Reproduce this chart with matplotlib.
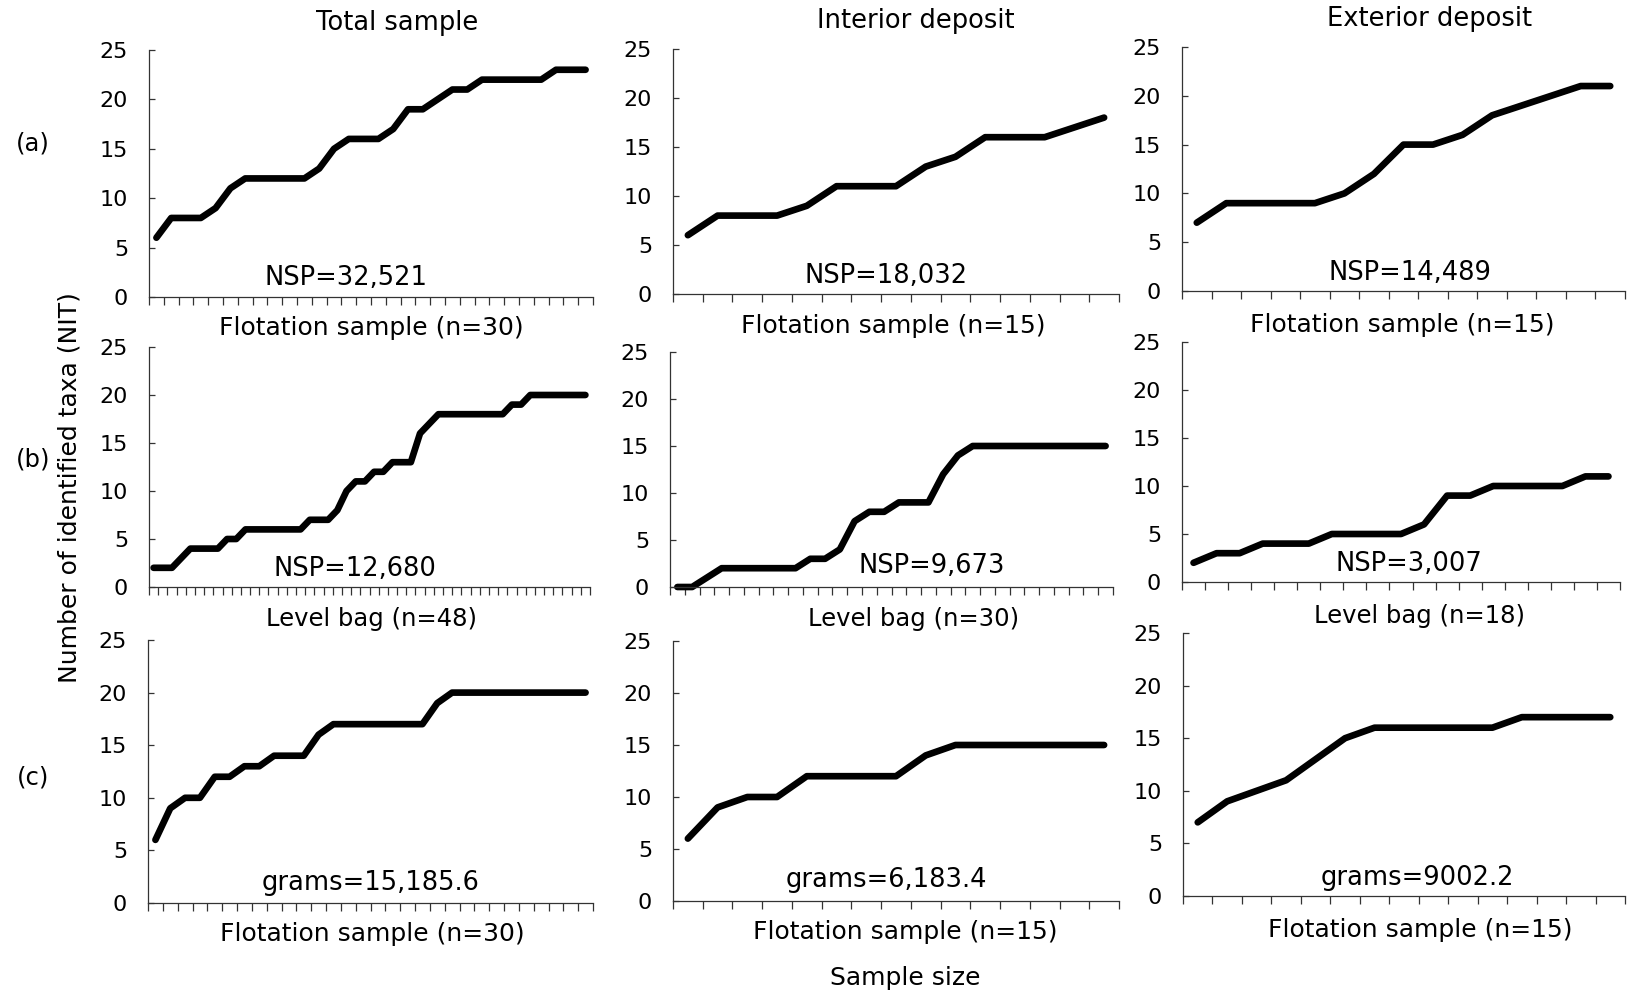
import matplotlib
matplotlib.use('Agg')
import matplotlib.pyplot as plt
import numpy as np

# cumulative number of identified taxa per added sample
total_flot = [6, 8, 8, 8, 9, 11, 12, 12, 12, 12, 12, 13, 15, 16, 16, 16, 17, 19, 19, 20,
              21, 21, 22, 22, 22, 22, 22, 23, 23, 23]
interior_flot = [6, 8, 8, 8, 9, 11, 11, 11, 13, 14, 16, 16, 16, 17, 18]
exterior_flot = [7, 9, 9, 9, 9, 10, 12, 15, 15, 16, 18, 19, 20, 21, 21]

total_bag = [2, 2, 2, 3, 4, 4, 4, 4, 5, 5, 6, 6, 6, 6, 6, 6, 6, 7, 7, 7, 8, 10, 11, 11,
             12, 12, 13, 13, 13, 16, 17, 18, 18, 18, 18, 18, 18, 18, 18, 19, 19, 20, 20,
             20, 20, 20, 20, 20]
interior_bag = [0, 0, 1, 2, 2, 2, 2, 2, 2, 3, 3, 4, 7, 8, 8, 9, 9, 9, 12, 14,
                15, 15, 15, 15, 15, 15, 15, 15, 15, 15]
exterior_bag = [2, 3, 3, 4, 4, 4, 5, 5, 5, 5, 6, 9, 9, 10, 10, 10, 10, 11, 11]

total_grams = [6, 9, 10, 10, 12, 12, 13, 13, 14, 14, 14, 16, 17, 17, 17, 17, 17, 17, 17, 19,
               20, 20, 20, 20, 20, 20, 20, 20, 20, 20]
interior_grams = [6, 9, 10, 10, 12, 12, 12, 12, 14, 15, 15, 15, 15, 15, 15]
exterior_grams = [7, 9, 10, 11, 13, 15, 16, 16, 16, 16, 16, 17, 17, 17, 17]

columns = ['Total sample', 'Interior deposit', 'Exterior deposit']
row_labels = ['(a)', '(b)', '(c)']
flot_labels = ['Flotation sample (n=30)', 'Flotation sample (n=15)', 'Flotation sample (n=15)']
bag_labels = ['Level bag (n=48)', 'Level bag (n=30)', 'Level bag (n=18)']
nsp_flot = ['NSP=32,521', 'NSP=18,032', 'NSP=14,489']
nsp_bag = ['NSP=12,680', 'NSP=9,673', 'NSP=3,007']
grams_text = ['grams=15,185.6', 'grams=6,183.4', 'grams=9002.2']

rows = [
    [total_flot, interior_flot, exterior_flot],
    [total_bag, interior_bag, exterior_bag],
    [total_grams, interior_grams, exterior_grams],
]

W, H = 1628, 996
fig = plt.figure(figsize=(W / 100, H / 100), dpi=100)
plt.rcParams['font.family'] = ['DejaVu Sans']

# axes boxes in pixels: left, top, right, bottom
boxes = [
    [(149, 50, 593, 297), (673, 49, 1119, 294), (1182, 47, 1625, 291)],
    [(149, 347, 590, 587), (670, 352, 1113, 587), (1182, 342, 1620, 582)],
    [(148, 640, 593, 903), (673, 641, 1119, 901), (1183, 633, 1625, 896)],
]


def ftext(x, y, s, size=17.5, **kw):
    fig.text(x / W, 1 - y / H, s, ha='center', va='center', fontsize=size, **kw)


def draw_panel(box, values):
    x0, y0, x1, y1 = box
    ax = fig.add_axes([x0 / W, 1 - y1 / H, (x1 - x0) / W, (y1 - y0) / H])
    n = len(values)
    x = np.arange(n)
    ax.plot(x, values, color='black', lw=4.8, solid_capstyle='round',
            solid_joinstyle='round', clip_on=False)
    ax.set_xlim(-0.5, n - 0.5)
    ax.set_ylim(0, 25)
    ax.set_xticks(np.arange(n + 1) - 0.5)
    ax.set_xticklabels([])
    ax.set_yticks(range(0, 26, 5))
    ax.tick_params(axis='x', direction='out', length=6, width=0.9, color='#333')
    ax.tick_params(axis='y', direction='in', length=4, width=0.9, color='#333',
                   labelsize=16, pad=15)
    for s in ['top', 'right']:
        ax.spines[s].set_visible(False)
    for s in ['left', 'bottom']:
        ax.spines[s].set_linewidth(0.9)
        ax.spines[s].set_color('#333')
    ax.patch.set_alpha(0)
    return ax


for r, row in enumerate(rows):
    for c, vals in enumerate(row):
        draw_panel(boxes[r][c], vals)

# column titles and between-row labels
title_pos = [(397, 23), (916, 21), (1430, 19)]
flot_pos = [(371, 328), (893, 326), (1402, 325)]
bag_pos = [(372, 619), (914, 619), (1420, 616)]
bottom_pos = [(372, 934), (905, 932), (1420, 930)]
for c in range(3):
    ftext(*title_pos[c], columns[c], size=18.5)
    ftext(*flot_pos[c], flot_labels[c], size=18)
    ftext(*bag_pos[c], bag_labels[c], size=17.5)
    ftext(*bottom_pos[c], flot_labels[c], size=18)

# sample size annotations inside panels
nsp_pos = [[(346, 278), (886, 276), (1410, 273)],
           [(355, 569), (932, 566), (1409, 564)],
           [(371, 883), (886, 880), (1417, 878)]]
for c in range(3):
    ftext(*nsp_pos[0][c], nsp_flot[c], size=18.5)
    ftext(*nsp_pos[1][c], nsp_bag[c], size=18.5)
    ftext(*nsp_pos[2][c], grams_text[c], size=18.5)

for lab, y in zip(row_labels, [143, 459, 777]):
    ftext(33, y, lab)

ftext(70, 488, 'Number of identified taxa (NIT)', size=18, rotation=90)
ftext(905, 978, 'Sample size', size=18)

fig.savefig('out.png', dpi=100)
